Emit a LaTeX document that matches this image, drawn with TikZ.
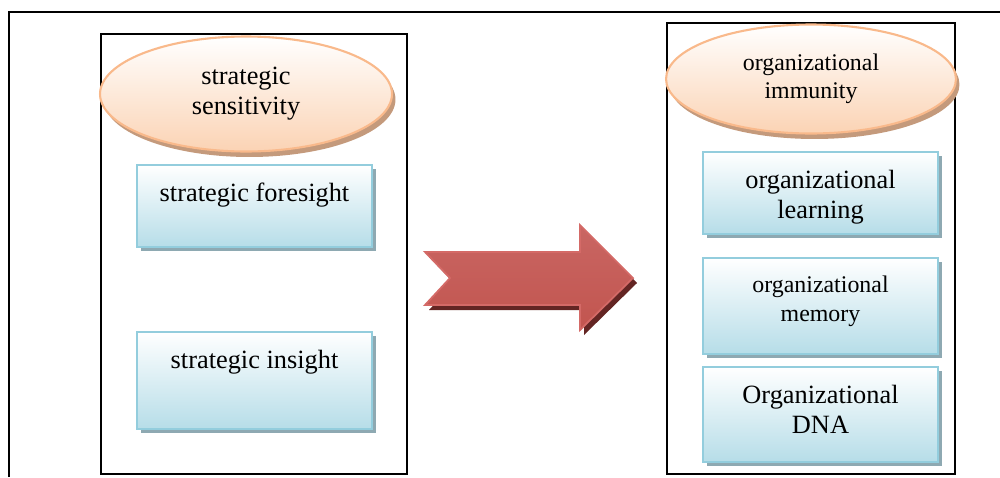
\documentclass[tikz,border=0pt]{standalone}
\usepackage{fontspec}
\setmainfont{Liberation Serif}
\usetikzlibrary{positioning,shapes.geometric,shadows}

\definecolor{boxline}{HTML}{93CDDD}
\definecolor{boxfill}{HTML}{B6DDE8}
\definecolor{boxshade}{HTML}{8EA9B2}
\definecolor{ovalline}{HTML}{F9B98B}
\definecolor{ovalfill}{HTML}{FBD3B4}
\definecolor{ovalshade}{HTML}{C49A7C}
\definecolor{arrowred}{HTML}{BC4A47}
\definecolor{arrowtop}{HTML}{C96663}
\definecolor{arrowbottom}{HTML}{C2554F}
\definecolor{arrowline}{HTML}{D46A67}
\definecolor{arrowshade}{HTML}{632523}

\newcommand{\bigtxt}{\fontsize{15}{17}\selectfont}
\newcommand{\smalltxt}{\fontsize{13.6}{16}\selectfont}

\tikzset{
  frame/.style={draw=black, line width=0.9pt},
  oval/.style={ellipse, draw=ovalline, line width=1.2pt, top color=white,
    bottom color=ovalfill, align=center, inner sep=0pt,
    general shadow={fill=ovalshade, shadow xshift=0.07cm, shadow yshift=-0.11cm}},
  box/.style={rectangle, draw=boxline, line width=1.2pt, top color=white,
    bottom color=boxfill, minimum width=4.7cm,
    general shadow={fill=boxshade, shadow xshift=0.08cm, shadow yshift=-0.08cm}},
  boxtext/.style={anchor=north, align=center, inner sep=0pt, yshift=-0.38cm},
  bigarrow/.style={draw=arrowline, line width=1pt, top color=arrowtop,
    middle color=arrowred, bottom color=arrowbottom,
    general shadow={fill=arrowshade, shadow xshift=0.08cm, shadow yshift=-0.1cm}}
}

\begin{document}
\begin{tikzpicture}[x=0.02cm, y=-0.02cm]
\useasboundingbox (0,0) rectangle (1000,477);

\draw[frame] (9,477) -- (9,12) -- (1000,12);
\draw[frame] (101,34) rectangle (407,474);
\draw[frame] (667,23) rectangle (955,474);

\node[oval, font=\bigtxt, minimum width=5.84cm, minimum height=2.3cm] (sensitivity) at (246,94) {strategic\\ sensitivity};
\node[box, minimum height=1.64cm] (foresight) at (254.5,206) {};
\node[boxtext, font=\bigtxt] (foresight text) at (foresight.north) {strategic foresight};
\node[box, minimum height=1.94cm] (insight) at (254.5,380.5) {};
\node[boxtext, font=\bigtxt] (insight text) at (insight.north) {strategic insight};

\node[oval, font=\smalltxt, minimum width=5.8cm, minimum height=2.18cm] (immunity) at (811,79) {organizational\\ immunity};
\node[box, minimum height=1.64cm] (learning) at (820.5,193) {};
\node[boxtext, font=\bigtxt] (learning text) at (learning.north) {organizational\\ learning};
\node[box, minimum height=1.92cm] (memory) at (820.5,306) {};
\node[boxtext, font=\smalltxt] (memory text) at (memory.north) {organizational\\ memory};
\node[box, minimum height=1.9cm] (dna) at (820.5,414.5) {};
\node[boxtext, font=\bigtxt] (dna text) at (dna.north) {Organizational\\ DNA};

\draw[bigarrow] (425,252) -- (580,252) -- (580,225) -- (633,278) -- (580,330)
  -- (580,305) -- (425,305) -- (450,278) -- cycle;

\end{tikzpicture}
\end{document}
